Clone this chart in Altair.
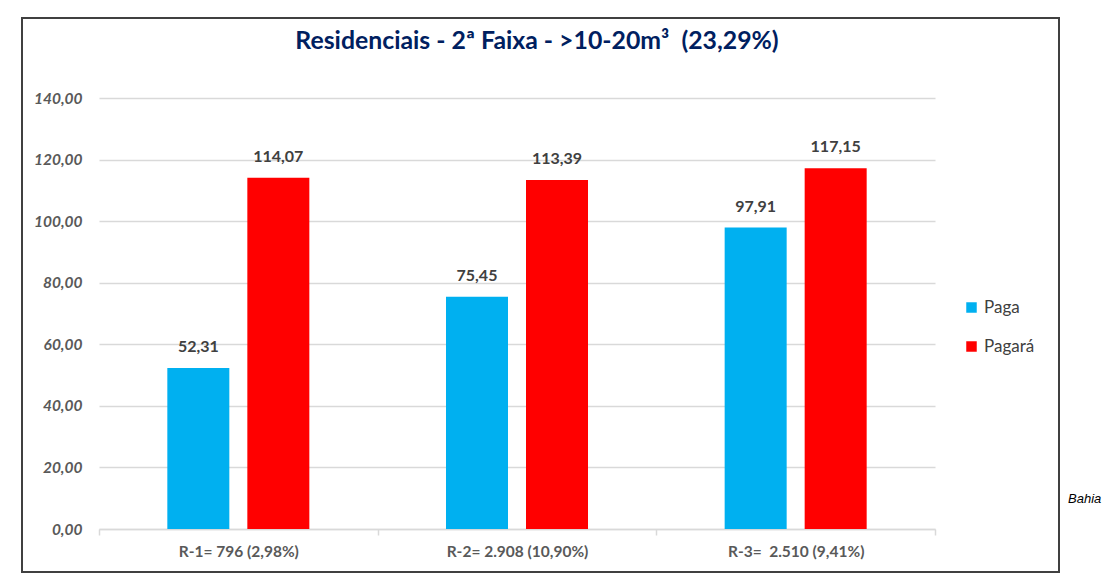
import altair as alt
import pandas as pd

categories = ["R-1= 796 (2,98%)", "R-2= 2.908 (10,90%)", "R-3=\u00a0 2.510 (9,41%)"]
series = ["Paga", "Pagará"]
paga = [52.31, 75.45, 97.91]
pagara = [114.07, 113.39, 117.15]
colors = ["#00B0F0", "#FF0000"]
y_ticks = [0, 20, 40, 60, 80, 100, 120, 140]
title_text = "Residenciais - 2ª Faixa - >10-20m³\u00a0 (23,29%)"

rows = []
for s, vals in zip(series, [paga, pagara]):
    for c, v in zip(categories, vals):
        rows.append({"cat": c, "serie": s, "valor": v})
df = pd.DataFrame(rows)

FONT = "Lato"

x_enc = alt.X(
    "cat:N", sort=categories,
    scale=alt.Scale(paddingInner=0, paddingOuter=0),
    axis=alt.Axis(title=None, labelAngle=0, tickBand="extent", grid=False,
                  domainColor="#d9d9d9", domainWidth=1.5, tickColor="#d9d9d9", tickWidth=1.5,
                  tickSize=6, labelFont=FONT, labelFontWeight="bold", labelFontSize=15.5,
                  labelColor="#595959", labelPadding=9),
)
xoff = alt.XOffset("serie:N", sort=series,
                   scale=alt.Scale(paddingInner=0.225, paddingOuter=0.854))
y_enc = alt.Y(
    "valor:Q",
    scale=alt.Scale(domain=[0, 140], nice=False),
    axis=alt.Axis(title=None, values=y_ticks, domain=False, ticks=False,
                  gridColor="#d9d9d9", gridWidth=1.5,
                  labelExpr="replace(format(datum.value, '.2f'), '.', ',')",
                  labelFont=FONT, labelFontStyle="italic", labelFontWeight="bold",
                  labelFontSize=15.5, labelColor="#595959", labelPadding=17),
)

base = alt.Chart(df)
bars = base.mark_bar().encode(
    x=x_enc, xOffset=xoff, y=y_enc,
    color=alt.Color("serie:N", sort=series,
                    scale=alt.Scale(domain=series, range=colors),
                    legend=alt.Legend(title=None, orient="none", legendX=864, legendY=201,
                                      symbolType="square", symbolSize=110,
                                      symbolStrokeWidth=0, labelFont=FONT,
                                      labelFontSize=17, labelColor="#404040",
                                      rowPadding=21, padding=0, labelOffset=4)),
)
labels = base.transform_calculate(
    txt="replace(format(datum.valor, '.2f'), '.', ',')"
).mark_text(dy=-21, font=FONT, fontWeight="bold", fontSize=16, color="#404040").encode(
    x=alt.X("cat:N", sort=categories), xOffset=alt.XOffset("serie:N", sort=series),
    y="valor:Q", text="txt:N",
)

deco = alt.Chart(pd.DataFrame({"t": [title_text]}))
title = deco.mark_text(font=FONT, fontWeight="bold", fontSize=24.8, color="#002060",
                       baseline="middle", align="center").encode(
    x=alt.value(438), y=alt.value(-56), text="t:N")
frame = deco.mark_rect(fill=None, stroke="#404040", strokeWidth=2).encode(
    x=alt.value(-77), x2=alt.value(960), y=alt.value(-80), y2=alt.value(474))
bahia = alt.Chart(pd.DataFrame({"t": ["Bahia"]})).mark_text(
    font="Liberation Sans", fontStyle="italic", fontSize=13, color="#000000",
    align="left", baseline="middle").encode(
    x=alt.value(969), y=alt.value(401), text="t:N")

chart = alt.layer(frame, bars, labels, title, bahia).properties(
    width=836, height=431,
    padding={"left": 91, "top": 90, "right": 170, "bottom": 45},
    autosize=alt.AutoSizeParams(type="none"),
).configure_view(stroke=None)

chart.save("out.html", embed_options={"renderer": "svg", "actions": False})
